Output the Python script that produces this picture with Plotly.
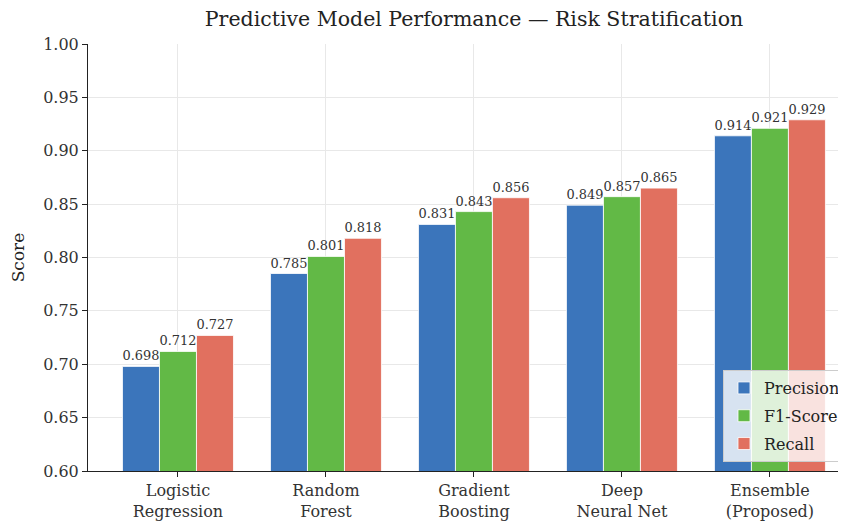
import plotly.graph_objects as go

categories = ["Logistic<br>Regression", "Random<br>Forest", "Gradient<br>Boosting", "Deep<br>Neural Net", "Ensemble<br>(Proposed)"]
precision = [0.698, 0.785, 0.831, 0.849, 0.914]
f1_score = [0.712, 0.801, 0.843, 0.857, 0.921]
recall = [0.727, 0.818, 0.856, 0.865, 0.929]
y_ticks = [0.60, 0.65, 0.70, 0.75, 0.80, 0.85, 0.90, 0.95, 1.00]

FONT = "DejaVu Serif, serif"

series = [
    ("Precision", precision, "#3b75bb"),
    ("F1-Score", f1_score, "#62b946"),
    ("Recall", recall, "#e1705f"),
]

W, H = 838, 521  # page adds an 8px body margin

fig = go.Figure()
for name, vals, color in series:
    fig.add_trace(go.Bar(
        x=categories, y=vals, name=name, legendgroup=name,
        marker=dict(color=color, line=dict(color="white", width=0.8)),
        text=[f"{v:.3f}" for v in vals], textposition="outside",
        textfont=dict(family=FONT, size=13, color="#333333"),
        cliponaxis=False,
    ))

fig.update_layout(
    width=W, height=H,
    margin=dict(l=80, r=0, t=36, b=58, autoexpand=False),
    paper_bgcolor="white", plot_bgcolor="white",
    barmode="group", bargap=0.25, bargroupgap=0,
    font=dict(family=FONT, size=16, color="#333333"),
    title=dict(text="Predictive Model Performance — Risk Stratification",
               x=466/W, xanchor="center", y=1 - 11/H, yanchor="middle",
               font=dict(family=FONT, size=20.5, color="#222222")),
    legend=dict(x=1.0, xanchor="right", y=0.021, yanchor="bottom",
                bgcolor="rgba(255,255,255,0.8)", bordercolor="#cccccc", borderwidth=1,
                font=dict(family=FONT, size=16, color="#222222"),
                itemwidth=30, tracegroupgap=4),
    xaxis=dict(range=[-0.608, 4.514], showgrid=True, gridcolor="#e8e8e8",
               showline=True, linecolor="#222222", linewidth=1,
               ticks="outside", ticklen=5, tickcolor="#222222",
               tickfont=dict(family=FONT, size=16, color="#333333")),
    yaxis=dict(range=[0.6, 1.0], tickvals=y_ticks, ticktext=[f"{t:.2f}" for t in y_ticks],
               showgrid=True, gridcolor="#e8e8e8", zeroline=False,
               showline=True, linecolor="#222222", linewidth=1,
               ticks="outside", ticklen=5, tickcolor="#222222",
               tickfont=dict(family=FONT, size=16, color="#333333"),
               title=dict(text="Score", font=dict(family=FONT, size=17, color="#222222"), standoff=14)),
)

fig.write_html("out.html")
